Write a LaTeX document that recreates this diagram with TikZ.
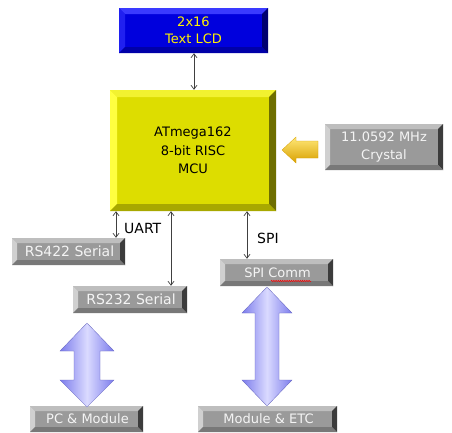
\documentclass[tikz,border=0pt]{standalone}
\usepackage{fontspec}
\setmainfont{DejaVu Sans}
\usetikzlibrary{calc,arrows.meta,decorations.pathmorphing}
\definecolor{lcdface}{HTML}{0000DD}
\definecolor{lcdtop}{HTML}{3A3AFF}
\definecolor{lcdleft}{HTML}{2020F0}
\definecolor{lcdright}{HTML}{000070}
\definecolor{lcdbot}{HTML}{0000A8}
\definecolor{mcuface}{HTML}{DDDD00}
\definecolor{mcutop}{HTML}{F2F230}
\definecolor{mculeft}{HTML}{FFFF40}
\definecolor{mcuright}{HTML}{6E6E00}
\definecolor{mcubot}{HTML}{A8A800}
\definecolor{gface}{HTML}{9A9A9A}
\definecolor{gtop}{HTML}{BEBEBE}
\definecolor{gleft}{HTML}{D0D0D0}
\definecolor{gright}{HTML}{3C3C3C}
\definecolor{gbot}{HTML}{787878}
\definecolor{gtext}{HTML}{F4F4F4}
\definecolor{linec}{HTML}{404040}
\definecolor{bluemid}{HTML}{DADAFF}
\definecolor{blueside}{HTML}{7C7CEC}
\definecolor{goldlt}{HTML}{FFE878}
\definecolor{golddk}{HTML}{D8A000}
\tikzset{
  bevel/.style n args={6}{fill=#2, inner sep=0pt, align=center,
    path picture={
      \coordinate (bnw) at (path picture bounding box.north west);
      \coordinate (bne) at (path picture bounding box.north east);
      \coordinate (bsw) at (path picture bounding box.south west);
      \coordinate (bse) at (path picture bounding box.south east);
      \fill[#3] (bnw) -- (bne) -- ($(bne)+(-#1,-#1)$) -- ($(bnw)+(#1,-#1)$) -- cycle;
      \fill[#4] (bnw) -- (bsw) -- ($(bsw)+(#1,#1)$) -- ($(bnw)+(#1,-#1)$) -- cycle;
      \fill[#5] (bne) -- (bse) -- ($(bse)+(-#1,#1)$) -- ($(bne)+(-#1,-#1)$) -- cycle;
      \fill[#6] (bsw) -- (bse) -- ($(bse)+(-#1,#1)$) -- ($(bsw)+(#1,#1)$) -- cycle;
    }},
  lcdbox/.style={bevel={6pt}{lcdface}{lcdtop}{lcdleft}{lcdright}{lcdbot},
    text=yellow, font=\fontsize{13}{17}\selectfont},
  mcubox/.style={bevel={7pt}{mcuface}{mcutop}{mculeft}{mcuright}{mcubot},
    text=black, font=\fontsize{13}{18.5}\selectfont},
  graybox/.style={bevel={5pt}{gface}{gtop}{gleft}{gright}{gbot},
    text=gtext, font=\fontsize{13}{18}\selectfont},
  link/.style={draw=linec, line width=0.7pt, {Straight Barb[length=4pt,width=6pt]}-{Straight Barb[length=4pt,width=6pt]}},
  lbl/.style={font=\fontsize{14}{16}\selectfont, text=black, inner sep=0pt},
  bluearrow/.style={left color=blueside, right color=blueside, middle color=bluemid, draw=blueside!80!black, line width=0.3pt},
  goldarrow/.style={top color=goldlt, bottom color=golddk, draw=golddk, line width=0.3pt}
}
\begin{document}
\begin{tikzpicture}[x=1pt,y=-1pt]
\useasboundingbox (0,0) rectangle (452,432);
\fill[white] (0,0) rectangle (452,432);

\node[lcdbox, minimum width=149pt, minimum height=45pt] (lcd) at (193.5,30.5) {2x16\\Text LCD};
\node[mcubox, minimum width=166pt, minimum height=121pt] (mcu) at (193,150.5) {ATmega162\\8-bit RISC\\MCU};
\node[graybox, minimum width=118pt, minimum height=46pt] (xtal) at (384,147) {11.0592 MHz\\Crystal};
\node[graybox, minimum width=113pt, minimum height=27pt, font=\fontsize{14}{16}\selectfont] (rs422) at (68.5,251.5) {\hspace{2pt}RS422 Serial};
\node[graybox, minimum width=114pt, minimum height=27pt, font=\fontsize{14}{16}\selectfont] (rs232) at (130,299.5) {\hspace{2pt}RS232 Serial};
\node[graybox, minimum width=113pt, minimum height=27pt] (spi) at (276.5,272.5) {\hspace{2pt}SPI Comm};
\node[graybox, minimum width=113pt, minimum height=26pt] (pc) at (86.5,419) {\hspace{2pt}PC \& Module};
\node[graybox, minimum width=139pt, minimum height=26pt] (mod) at (267.5,419) {\hspace{2pt}Module \& ETC};

% connectors
\draw[link] (lcd.south -| 194,0) -- (mcu.north -| 194,0);
\draw[link] (mcu.south -| 116,0) -- (rs422.north -| 116,0);
\draw[link] (mcu.south -| 171,0) -- (rs232.north -| 171,0);
\draw[link] (mcu.south -| 247,0) -- (spi.north -| 247,0);
\node[lbl, anchor=west] (uart) at (124,228) {UART};
\node[lbl, anchor=west] (spil) at (257,238) {SPI};

% spell-check squiggle
\draw[red, line width=0.5pt, decorate, decoration={snake, amplitude=0.7pt, segment length=2.2pt}] (271,281) -- (311,281);

% gold arrow crystal -> mcu
\path[goldarrow] (282,150) -- (296,137) -- (296,141) -- (318,141) -- (318,158) -- (296,158) -- (296,163) -- cycle;

% big blue double arrows
\path[bluearrow] (87,323) -- (114,351) -- (100,351) -- (100,380) -- (114,380) -- (87,407) -- (60,380) -- (74,380) -- (74,351) -- (60,351) -- cycle;
\path[bluearrow] (267,287) -- (292,313) -- (279,313) -- (279,380) -- (292,380) -- (267,406) -- (242,380) -- (255,380) -- (255,313) -- (242,313) -- cycle;
\end{tikzpicture}
\end{document}
